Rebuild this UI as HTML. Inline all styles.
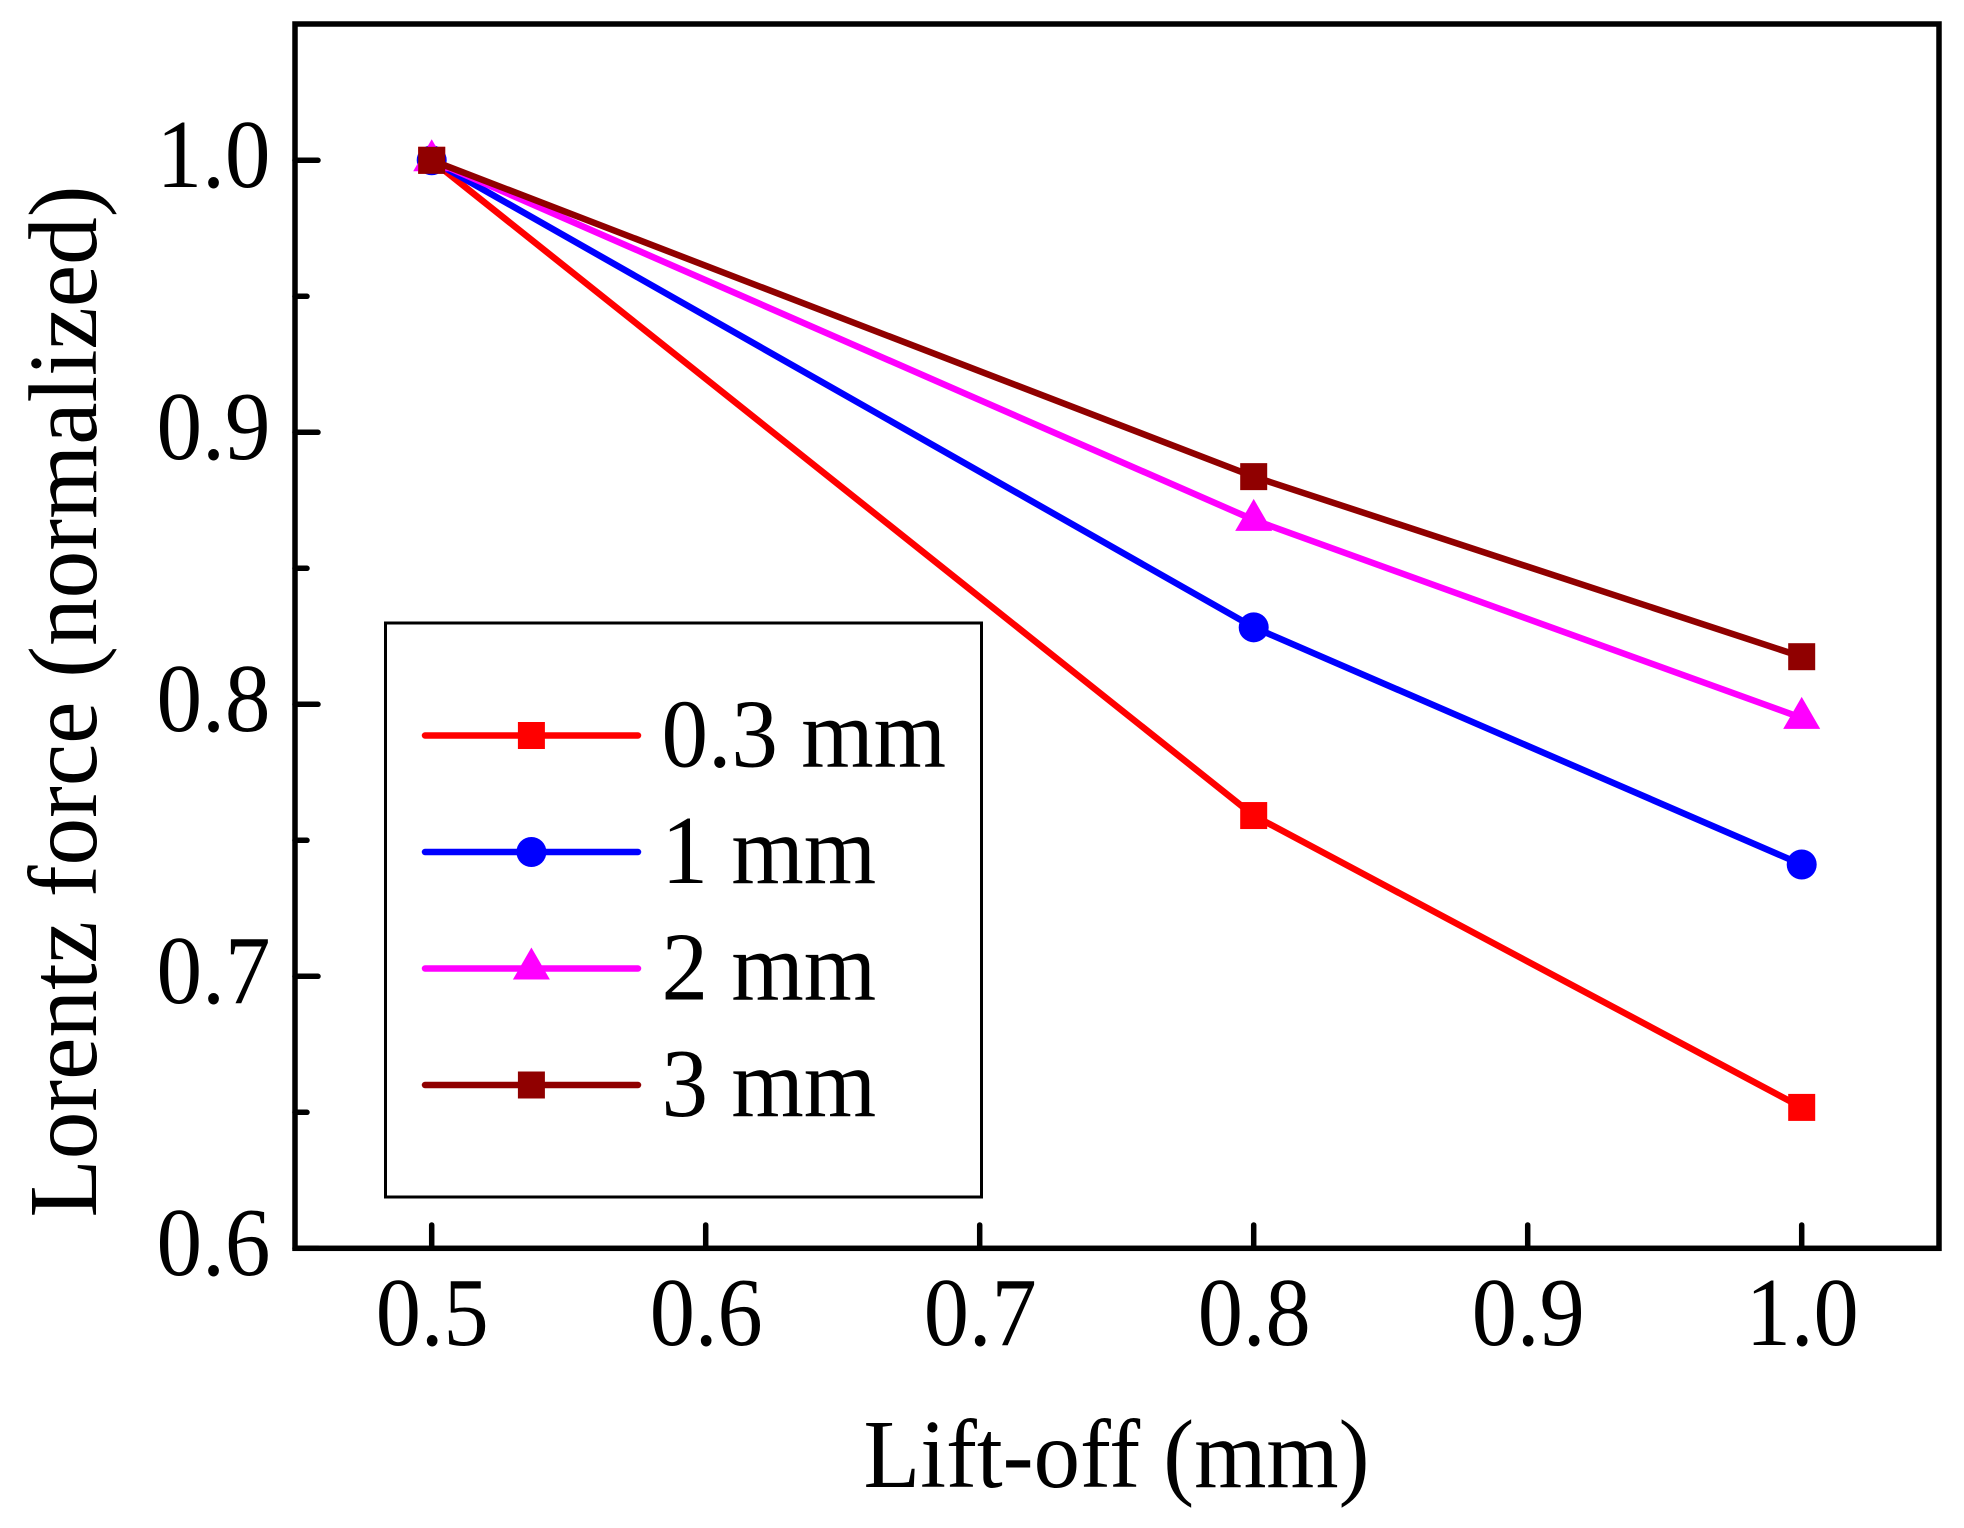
<!DOCTYPE html>
<html lang="en">
<head>
<meta charset="utf-8">
<title>Lorentz force vs lift-off</title>
<style>
  html, body { margin: 0; padding: 0; background: #fff; }
  svg { display: block; }
  text { font-family: "Liberation Serif", serif; fill: #000; }
</style>
</head>
<body>
<svg id="chart" xmlns="http://www.w3.org/2000/svg" width="1964" height="1528" viewBox="0 0 1964 1528">
  <rect x="0" y="0" width="1964" height="1528" fill="#fff"/>
  <g id="ticks"></g>
  <g id="tick-labels"></g>
  <g id="marks"></g>
  <rect x="295" y="24" width="1644" height="1224.3" fill="none" stroke="#000" stroke-width="5.5"/>
  <rect x="385.5" y="623" width="596" height="574" fill="#fff" stroke="#000" stroke-width="3" shape-rendering="crispEdges"/>
  <g id="legend"></g>
  <text x="1116.5" y="1487" font-size="98" text-anchor="middle" textLength="506" lengthAdjust="spacingAndGlyphs">Lift-off (mm)</text>
  <text transform="translate(96,701.5) rotate(-90)" x="0" y="0" font-size="98" text-anchor="middle" textLength="1032" lengthAdjust="spacingAndGlyphs">Lorentz force (normalized)</text>
</svg>
<script>
const liftOff = [0.5, 0.8, 1.0];
const force03mm = [1.0, 0.7591, 0.6518];
const force1mm = [1.0, 0.8283, 0.7411];
const force2mm = [1.0, 0.8678, 0.795];
const force3mm = [1.0, 0.8837, 0.8175];
const xTickValues = [0.5, 0.6, 0.7, 0.8, 0.9, 1.0];
const xTickLabels = ["0.5", "0.6", "0.7", "0.8", "0.9", "1.0"];
const yTickValues = [0.6, 0.7, 0.8, 0.9, 1.0];
const yTickLabels = ["0.6", "0.7", "0.8", "0.9", "1.0"];
const yMinorTickValues = [0.65, 0.75, 0.85, 0.95];
const seriesNames = ["0.3 mm", "1 mm", "2 mm", "3 mm"];

const NS = "http://www.w3.org/2000/svg";
const seriesValues = [force03mm, force1mm, force2mm, force3mm];
const seriesColors = ["#ff0000", "#0000ff", "#ff00ff", "#900000"];
const seriesShapes = ["square", "circle", "triangle", "square"];

function xScale(v) { return 431.7 + (v - 0.5) * 2740; }
function yScale(v) { return 160.3 + (1 - v) * 2720; }

function make(tag, attrs, parent) {
  const el = document.createElementNS(NS, tag);
  for (const k in attrs) el.setAttribute(k, attrs[k]);
  parent.appendChild(el);
  return el;
}

function drawMarker(shape, cx, cy, color, parent) {
  let el;
  if (shape === "square") {
    el = make("rect", { x: cx - 13.5, y: cy - 13.5, width: 27, height: 27, fill: color }, parent);
  } else if (shape === "circle") {
    el = make("circle", { cx: cx, cy: cy, r: 15, fill: color }, parent);
  } else {
    el = make("polygon", {
      points: (cx) + "," + (cy - 21) + " " + (cx + 18.5) + "," + (cy + 11) + " " + (cx - 18.5) + "," + (cy + 11),
      fill: color
    }, parent);
  }
  return el;
}

const ticksG = document.getElementById("ticks");
const labelsG = document.getElementById("tick-labels");
const marksG = document.getElementById("marks");
const legendG = document.getElementById("legend");

xTickValues.forEach(function (v, i) {
  const x = xScale(v);
  const tick = make("line", { x1: x, y1: 1248, x2: x, y2: 1225, stroke: "#000", "stroke-width": 5.5, "stroke-linecap": "round" }, ticksG);
  
  
  const label = make("text", { x: x + 0.5, y: 1345, "font-size": 97, "text-anchor": "middle", textLength: 113, lengthAdjust: "spacingAndGlyphs" }, labelsG);
  label.textContent = xTickLabels[i];
  
  
});

yTickValues.forEach(function (v, i) {
  const y = yScale(v);
  const tick = make("line", { x1: 295, y1: y, x2: 318, y2: y, stroke: "#000", "stroke-width": 5.5, "stroke-linecap": "round" }, ticksG);
  
  
  const label = make("text", { x: 270.5, y: y + 26.6, "font-size": 97, "text-anchor": "end", textLength: 114, lengthAdjust: "spacingAndGlyphs" }, labelsG);
  label.textContent = yTickLabels[i];
  
  
});

yMinorTickValues.forEach(function (v) {
  const y = yScale(v);
  const tick = make("line", { x1: 295, y1: y, x2: 307, y2: y, stroke: "#000", "stroke-width": 5.5, "stroke-linecap": "round" }, ticksG);
  
  
});

seriesValues.forEach(function (values, s) {
  const color = seriesColors[s];
  const group = make("g", {}, marksG);
  
  
  const pts = values.map(function (v, i) { return xScale(liftOff[i]) + "," + yScale(v); }).join(" ");
  const line = make("polyline", { points: pts, fill: "none", stroke: color, "stroke-width": 6.5, "stroke-linejoin": "round" }, group);
  
  
  values.forEach(function (v, i) {
    const m = drawMarker(seriesShapes[s], xScale(liftOff[i]), yScale(v), color, group);
    
    
  });
});

seriesNames.forEach(function (name, i) {
  const y = 735.5 + i * 116.5;
  const color = seriesColors[i];
  const line = make("line", { x1: 425, y1: y, x2: 638, y2: y, stroke: color, "stroke-width": 6.5, "stroke-linecap": "round" }, legendG);
  
  
  const marker = drawMarker(seriesShapes[i], 531.4, y, color, legendG);
  
  
  const em = name.length === 6 ? 3.056 : 2.306;
  const label = make("text", { x: 661.5, y: y + 31, "font-size": 97, textLength: em * 97 * 0.96, lengthAdjust: "spacingAndGlyphs" }, legendG);
  label.textContent = name;
  
  
});
</script>
</body>
</html>
